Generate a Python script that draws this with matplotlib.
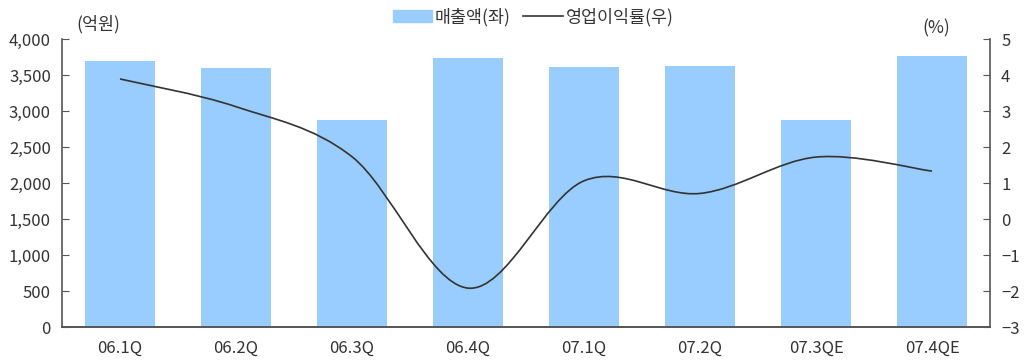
import numpy as np
import matplotlib
matplotlib.use("Agg")
import matplotlib.pyplot as plt
from matplotlib.path import Path
from matplotlib.patches import PathPatch, Patch
from matplotlib.lines import Line2D

plt.rcParams['font.family'] = ['Noto Sans CJK KR', 'DejaVu Sans']

quarters = ['06.1Q', '06.2Q', '06.3Q', '06.4Q', '07.1Q', '07.2Q', '07.3QE', '07.4QE']
sales = [3700, 3600, 2870, 3740, 3610, 3620, 2870, 3760]
margin = [3.89, 3.12, 1.73, -1.92, 1.06, 0.71, 1.72, 1.33]

fig = plt.figure(figsize=(10.25, 3.63), dpi=100)
ax = fig.add_axes([62/1025, 36/363, 928/1025, 288/363])
x = np.arange(len(quarters))
ax.bar(x, sales, width=0.6, color='#99ccff')
ax.set_xlim(-0.5, len(quarters) - 0.5)
ax.set_ylim(0, 4000)
ax.set_yticks(range(0, 4001, 500))
ax.set_yticklabels([f'{v:,}' for v in range(0, 4001, 500)])
ax.set_xticks(x)
ax.set_xticklabels(quarters)

ax2 = ax.twinx()
ax2.set_ylim(-3, 5)
ax2.set_yticks(range(-3, 6))
ax2.set_yticklabels([str(v).replace('-', '\u2212') for v in range(-3, 6)])

# smoothed line (Catmull-Rom style bezier, like Excel smoothing)
pts = np.column_stack([x, margin]).astype(float)
verts = [tuple(pts[0])]
codes = [Path.MOVETO]
n = len(pts)
for i in range(n - 1):
    p0 = pts[i - 1] if i > 0 else pts[i]
    p1 = pts[i]
    p2 = pts[i + 1]
    p3 = pts[i + 2] if i + 2 < n else pts[i + 1]
    c1 = p1 + (p2 - p0) / 6
    c2 = p2 - (p3 - p1) / 6
    verts += [tuple(c1), tuple(c2), tuple(p2)]
    codes += [Path.CURVE4] * 3
ax2.add_patch(PathPatch(Path(verts, codes), fill=False, edgecolor='#333333', lw=1.2))

for a in (ax, ax2):
    a.spines['top'].set_visible(False)
    for s in a.spines.values():
        s.set_color('#555555')
        s.set_linewidth(1.2)
ax.spines['right'].set_visible(False)
ax2.spines['left'].set_visible(False)
ax.tick_params(axis='y', direction='in', length=5, color='#555555', labelsize=12, labelcolor='#333333', pad=8)
ax.tick_params(axis='x', length=0, labelsize=12, labelcolor='#333333', pad=9)
ax2.tick_params(axis='y', direction='in', length=5, color='#555555', labelsize=12, labelcolor='#333333', pad=8)

fig.text(76/1025, 1 - 24/363, '(억원)', fontsize=12.5, color='#333333', va='center')
fig.text(922/1025, 1 - 28/363, '(%)', fontsize=12.5, color='#333333', va='center')

handles = [Patch(color='#99ccff'), Line2D([], [], color='#333333', lw=1.2)]
fig.legend(handles, ['매출액(좌)', '영업이익률(우)'], loc='center', bbox_to_anchor=(0.52, 1 - 17/363),
           ncol=2, frameon=False, fontsize=12.5, handlelength=2.3, handletextpad=0.15, columnspacing=0.7,
           labelcolor='#333333')

fig.savefig('out.png', dpi=100)
